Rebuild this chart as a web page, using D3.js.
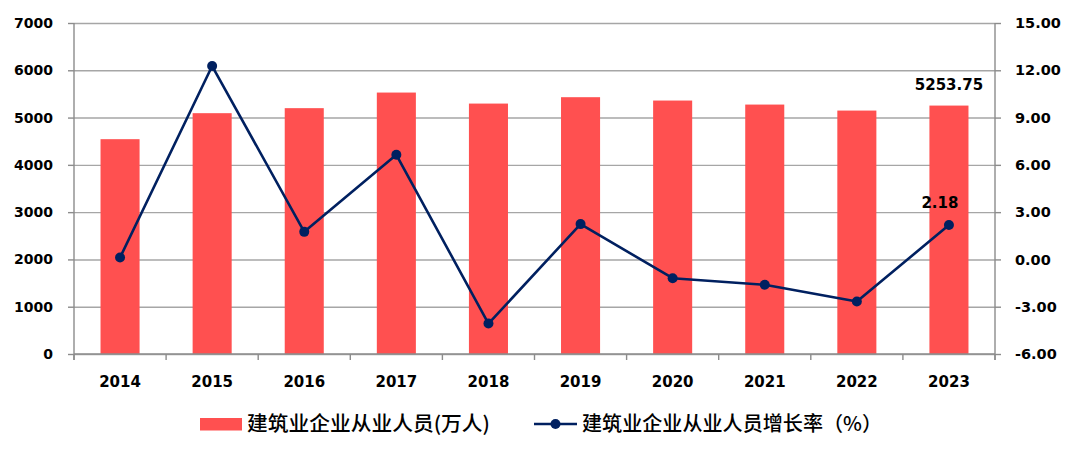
<!DOCTYPE html>
<html>
<head>
<meta charset="utf-8">
<script src="https://cdn.jsdelivr.net/npm/d3@7"></script>
<style>
  html, body { margin: 0; padding: 0; background: #fff; }
  svg { display: block; }
</style>
</head>
<body>
<div id="chart"></div>
<script>
// ---- data ----
const years = ["2014","2015","2016","2017","2018","2019","2020","2021","2022","2023"];
const employees = [4543, 5093, 5199, 5529, 5296, 5431, 5360, 5275, 5148, 5253.75];
const growth = [0.12, 12.27, 1.75, 6.64, -4.07, 2.24, -1.19, -1.61, -2.67, 2.18];
const leftTicks = [0, 1000, 2000, 3000, 4000, 5000, 6000, 7000];
const rightTicks = [-6, -3, 0, 3, 6, 9, 12, 15];
const seriesNames = ["建筑业企业从业人员(万人)", "建筑业企业从业人员增长率（%）"];

(function () {
const W = 1080, H = 456;
const pL = 74, pR = 995, pT = 23, pB = 354;
const barColor = "#FF5050", lineColor = "#002060", gridColor = "#A6A6A6", axisColor = "#8C8C8C";
const tickFont = "'DejaVu Sans', Verdana, sans-serif";
const fmt2 = d => d3.format(".2f")(d).replace("\u2212", "-");

const svg = d3.select("#chart").append("svg").attr("width", W).attr("height", H);
svg.append("rect").attr("width", W).attr("height", H).attr("fill", "#fff");

const x = d3.scaleBand().domain(years).range([pL, pR]).padding(0);
const yL = d3.scaleLinear().domain([0, 7000]).range([pB, pT]);
const yR = d3.scaleLinear().domain([-6, 15]).range([pB, pT]);

// gridlines
const grid = svg.append("g").attr("transform", `translate(${pL},0)`)
  .call(d3.axisLeft(yL).tickValues(leftTicks).tickSize(-(pR - pL)).tickFormat(""));
grid.select(".domain").remove();
grid.selectAll("line").attr("stroke", gridColor).attr("stroke-width", 1.4);

// bars
const bw = x.bandwidth() * 0.424;
svg.append("g").selectAll("rect").data(employees).join("rect")
  .attr("x", (d, i) => x(years[i]) + (x.bandwidth() - bw) / 2)
  .attr("y", d => yL(d))
  .attr("width", bw)
  .attr("height", d => yL(0) - yL(d))
  .attr("fill", barColor);

// left axis
const axL = svg.append("g").attr("transform", `translate(${pL},0)`)
  .call(d3.axisLeft(yL).tickValues(leftTicks).tickSize(6).tickSizeOuter(0).tickPadding(15).tickFormat(d3.format("d")));
axL.select(".domain").remove();
axL.selectAll("line").attr("stroke", axisColor).attr("stroke-width", 1.4);
axL.selectAll("text").attr("font-family", tickFont).attr("font-weight", "bold").attr("font-size", 14).attr("fill", "#000");

// right axis
const axR = svg.append("g").attr("transform", `translate(${pR},0)`)
  .call(d3.axisRight(yR).tickValues(rightTicks).tickSize(6).tickSizeOuter(0).tickPadding(14).tickFormat(fmt2));
axR.select(".domain").remove();
axR.selectAll("line").attr("stroke", axisColor).attr("stroke-width", 1.4);
axR.selectAll("text").attr("font-family", tickFont).attr("font-weight", "bold").attr("font-size", 14.5).attr("fill", "#000");

// vertical axis lines
[pL, pR].forEach(px => {
  svg.append("line").attr("x1", px).attr("x2", px).attr("y1", pT).attr("y2", pB + 6)
    .attr("stroke", axisColor).attr("stroke-width", 1.4);
});

// x axis baseline + boundary ticks
svg.append("line").attr("x1", pL).attr("x2", pR).attr("y1", pB).attr("y2", pB)
  .attr("stroke", axisColor).attr("stroke-width", 1.4);
const bounds = years.map(d => x(d)).concat([x.range()[1]]);
svg.append("g").selectAll("line").data(bounds).join("line")
  .attr("x1", d => d).attr("x2", d => d).attr("y1", pB).attr("y2", pB + 6)
  .attr("stroke", axisColor).attr("stroke-width", 1.4);

// year labels
const axB = svg.append("g").attr("transform", `translate(0,${pB})`)
  .call(d3.axisBottom(x).tickSize(0).tickPadding(22));
axB.select(".domain").remove();
axB.selectAll("text").attr("font-family", tickFont).attr("font-weight", "bold").attr("font-size", 15).attr("fill", "#000");

// line
const cx = i => x(years[i]) + x.bandwidth() / 2;
const line = d3.line().x((d, i) => cx(i)).y(d => yR(d));
svg.append("path").datum(growth).attr("d", line)
  .attr("fill", "none").attr("stroke", lineColor).attr("stroke-width", 2.6).attr("stroke-linejoin", "round");
svg.append("g").selectAll("circle").data(growth).join("circle")
  .attr("cx", (d, i) => cx(i)).attr("cy", d => yR(d)).attr("r", 5).attr("fill", lineColor);

// data labels for last point
const last = years.length - 1;
svg.append("text").attr("x", cx(last)).attr("y", yL(employees[last]) - 15.5)
  .attr("text-anchor", "middle").attr("font-family", tickFont).attr("font-weight", "bold").attr("font-size", 15)
  .attr("fill", "#000").text(fmt2(employees[last]));
svg.append("text").attr("x", cx(last) - 9).attr("y", yR(growth[last]) - 17)
  .attr("text-anchor", "middle").attr("font-family", tickFont).attr("font-weight", "bold").attr("font-size", 15)
  .attr("fill", "#000").text(fmt2(growth[last]));

// legend
const lg = svg.append("g");
const cjk = "'Noto Sans CJK SC', 'Noto Sans', sans-serif";
lg.append("rect").attr("x", 200).attr("y", 418).attr("width", 42).attr("height", 12.5).attr("fill", barColor);
lg.append("text").attr("x", 247).attr("y", 431).attr("font-family", cjk).attr("font-size", 20).attr("font-weight", 500)
  .attr("textLength", 243).attr("lengthAdjust", "spacingAndGlyphs").attr("fill", "#000").text(seriesNames[0]);
lg.append("line").attr("x1", 534).attr("x2", 577).attr("y1", 424).attr("y2", 424)
  .attr("stroke", lineColor).attr("stroke-width", 2.6);
lg.append("circle").attr("cx", 555.5).attr("cy", 424).attr("r", 5).attr("fill", lineColor);
lg.append("text").attr("x", 582).attr("y", 431).attr("font-family", cjk).attr("font-size", 20).attr("font-weight", 500)
  .attr("textLength", 300).attr("lengthAdjust", "spacingAndGlyphs").attr("fill", "#000").text(seriesNames[1]);
})();
</script>
</body>
</html>
